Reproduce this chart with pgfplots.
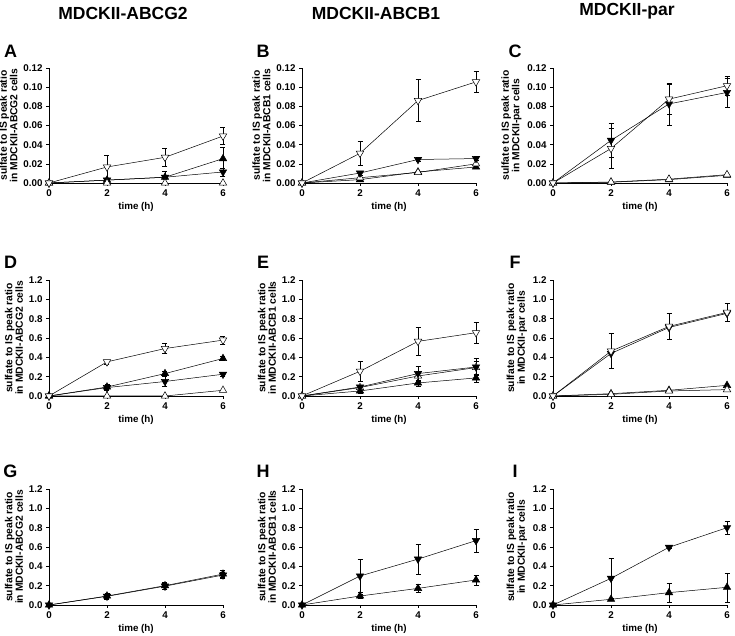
\documentclass[border=0pt]{standalone}
\usepackage{pgfplots}
\pgfplotsset{compat=1.18}
\usepackage{fontspec}
\setmainfont{Liberation Sans}
\newcommand{\tfont}{\bfseries\fontsize{9.8}{10}\selectfont}
\pgfplotsset{
  panel/.style={
    scale only axis, width=174pt, height=115pt,
    anchor=south west, clip=false,
    xmin=0, xmax=6, ymin=0,
    axis lines=left, axis line style={-, line width=0.6pt},
    tick align=outside, major tick length=3pt,
    tick style={line width=0.6pt, black},
    xtick={0,2,4,6},
    tick label style={font=\tfont},
    /pgf/number format/assume math mode=true,
    xlabel={time (h)},
    label style={font=\tfont},
    xlabel style={yshift=1pt},
    ylabel style={align=center, font=\bfseries\fontsize{10.3}{9.3}\selectfont, yshift=-1pt},
    yticklabel style={/pgf/number format/.cd, fixed, fixed zerofill},
    every axis plot/.append style={line width=0.5pt, black},
  },
  small/.style={ymax=0.12, ytick={0,0.02,...,0.12}, yticklabel style={/pgf/number format/precision=2}},
  big/.style={ymax=1.2, ytick={0,0.2,...,1.2}, yticklabel style={/pgf/number format/precision=1}},
  eb/.style={error bars/.cd, y dir=both, y explicit, error mark=-, error mark options={rotate=90, mark size=2.5pt, line width=0.5pt, black}, error bar style={line width=0.5pt, black}},
  odn/.style={mark=triangle*, mark size=4.3pt, mark options={rotate=180, fill=white, draw=black, solid, line width=0.5pt}, eb},
  fdn/.style={mark=triangle*, mark size=4.3pt, mark options={rotate=180, fill=black, solid}, eb},
  oup/.style={mark=triangle*, mark size=4.3pt, mark options={fill=white, draw=black, solid, line width=0.5pt}, eb},
  fup/.style={mark=triangle*, mark size=4.3pt, mark options={fill=black, solid}, eb},
}
\begin{document}
\begin{tikzpicture}
\useasboundingbox (0,0) rectangle (735pt,636pt);
% column titles
\node[font=\bfseries\fontsize{17.5}{18}\selectfont] at (123pt,623pt) {MDCKII-ABCG2};
\node[font=\bfseries\fontsize{17.5}{18}\selectfont] at (376pt,623pt) {MDCKII-ABCB1};
\node[font=\bfseries\fontsize{17.5}{18}\selectfont] at (627pt,625pt) {MDCKII-par};
% panel letters
\foreach \l/\x/\y in {A/10.5/585,B/263/585,C/515/585,D/10.5/374,E/263/374,F/515/374,G/10.5/165,H/263/165,I/515/165}
  \node[font=\bfseries\fontsize{18}{18}\selectfont] at (\x pt,\y pt) {\l};

% ---------- A ----------
\begin{axis}[panel, small, at={(49pt,453pt)}, ylabel={sulfate to IS peak ratio\\in MDCKII-ABCG2 cells}]
\addplot[fup] coordinates {(0,0) (2,0.003) (4,0.006) (6,0.0254) +- (0,0.012)};
\addplot[fdn] coordinates {(0,0) (2,0.003) (4,0.006) +- (0,0.006) (6,0.0115) +- (0,0.004)};
\addplot[oup] coordinates {(0,0) (2,0) (4,0) (6,0)};
\addplot[odn] coordinates {(0,0) (2,0.0167) +- (0,0.012) (4,0.0268) +- (0,0.009) (6,0.049) +- (0,0.009)};
\end{axis}
% ---------- B ----------
\begin{axis}[panel, small, at={(302pt,453pt)}, ylabel={sulfate to IS peak ratio\\in MDCKII-ABCB1 cells}]
\addplot[fup] coordinates {(0,0) (2,0.0035) (4,0.0115) (6,0.0167)};
\addplot[oup] coordinates {(0,0) (2,0.0055) (4,0.011) (6,0.020)};
\addplot[fdn] coordinates {(0,0) (2,0.0104) +- (0,0.002) (4,0.0245) +- (0,0.002) (6,0.0255) +- (0,0.002)};
\addplot[odn] coordinates {(0,0) (2,0.031) +- (0,0.013) (4,0.086) +- (0,0.022) (6,0.1055) +- (0,0.011)};
\end{axis}
% ---------- C ----------
\begin{axis}[panel, small, at={(553pt,453pt)}, ylabel={sulfate to IS peak ratio\\in MDCKII-par cells}]
\addplot[fup] coordinates {(0,0) (2,0.0008) (4,0.0035) (6,0.008)};
\addplot[oup] coordinates {(0,0) (2,0.001) (4,0.004) (6,0.0087)};
\addplot[fdn] coordinates {(0,0) (2,0.0445) +- (0,0.018) (4,0.0825) +- (0,0.022) (6,0.0945) +- (0,0.015)};
\addplot[odn] coordinates {(0,0) (2,0.036) +- (0,0.021) (4,0.0875) +- (0,0.016) (6,0.1015) +- (0,0.010)};
\end{axis}

% ---------- D ----------
\begin{axis}[panel, big, height=116pt, at={(49pt,240pt)}, ylabel={sulfate to IS peak ratio\\in MDCKII-ABCG2 cells}]
\addplot[oup] coordinates {(0,0) (2,0) (4,0) (6,0.059)};
\addplot[fdn] coordinates {(0,0) (2,0.087) +- (0,0.03) (4,0.15) +- (0,0.05) (6,0.225) +- (0,0.02)};
\addplot[fup] coordinates {(0,0) (2,0.093) +- (0,0.02) (4,0.232) +- (0,0.02) (6,0.388) +- (0,0.02)};
\addplot[odn] coordinates {(0,0) (2,0.353) +- (0,0.02) (4,0.491) +- (0,0.05) (6,0.578) +- (0,0.04)};
\end{axis}
% ---------- E ----------
\begin{axis}[panel, big, height=116pt, at={(302pt,240pt)}, ylabel={sulfate to IS peak ratio\\in MDCKII-ABCB1 cells}]
\addplot[fup] coordinates {(0,0) (2,0.052) +- (0,0.02) (4,0.135) +- (0,0.03) (6,0.187) +- (0,0.04)};
\addplot[oup] coordinates {(0,0) (2,0.087) (4,0.207) +- (0,0.05) (6,0.294) +- (0,0.07)};
\addplot[fdn] coordinates {(0,0) (2,0.093) +- (0,0.02) (4,0.232) +- (0,0.08) (6,0.30) +- (0,0.09)};
\addplot[odn] coordinates {(0,0) (2,0.256) +- (0,0.104) (4,0.565) +- (0,0.143) (6,0.655) +- (0,0.11)};
\end{axis}
% ---------- F ----------
\begin{axis}[panel, big, height=116pt, at={(553pt,240pt)}, ylabel={sulfate to IS peak ratio\\in MDCKII-par cells}]
\addplot[fup] coordinates {(0,0) (2,0.024) (4,0.059) (6,0.11)};
\addplot[oup] coordinates {(0,0) (2,0.017) (4,0.052) (6,0.066)};
\addplot[fdn] coordinates {(0,0) (2,0.44) (4,0.709) (6,0.855)};
\addplot[odn] coordinates {(0,0) (2,0.464) +- (0,0.18) (4,0.72) +- (0,0.135) (6,0.865) +- (0,0.09)};
\end{axis}

% ---------- G ----------
\begin{axis}[panel, big, height=116pt, at={(49pt,31pt)}, ylabel={sulfate to IS peak ratio\\in MDCKII-ABCG2 cells}]
\addplot[fdn] coordinates {(0,0) (2,0.09) +- (0,0.025) (4,0.195) +- (0,0.03) (6,0.31) +- (0,0.03)};
\addplot[fup] coordinates {(0,0) (2,0.093) +- (0,0.03) (4,0.2) +- (0,0.035) (6,0.32) +- (0,0.035)};
\end{axis}
% ---------- H ----------
\begin{axis}[panel, big, height=116pt, at={(302pt,31pt)}, ylabel={sulfate to IS peak ratio\\in MDCKII-ABCB1 cells}]
\addplot[fup] coordinates {(0,0) (2,0.093) +- (0,0.02) (4,0.172) +- (0,0.045) (6,0.259) +- (0,0.05)};
\addplot[fdn] coordinates {(0,0) (2,0.30) +- (0,0.17) (4,0.475) +- (0,0.155) (6,0.666) +- (0,0.116)};
\end{axis}
% ---------- I ----------
\begin{axis}[panel, big, height=116pt, at={(553pt,31pt)}, ylabel={sulfate to IS peak ratio\\in MDCKII-par cells}]
\addplot[fup] coordinates {(0,0) (2,0.059) (4,0.128) +- (0,0.1) (6,0.183) +- (0,0.15)};
\addplot[fdn] coordinates {(0,0) (2,0.276) +- (0,0.207) (4,0.597) +- (0,0.01) (6,0.80) +- (0,0.07)};
\end{axis}
\end{tikzpicture}
\end{document}
